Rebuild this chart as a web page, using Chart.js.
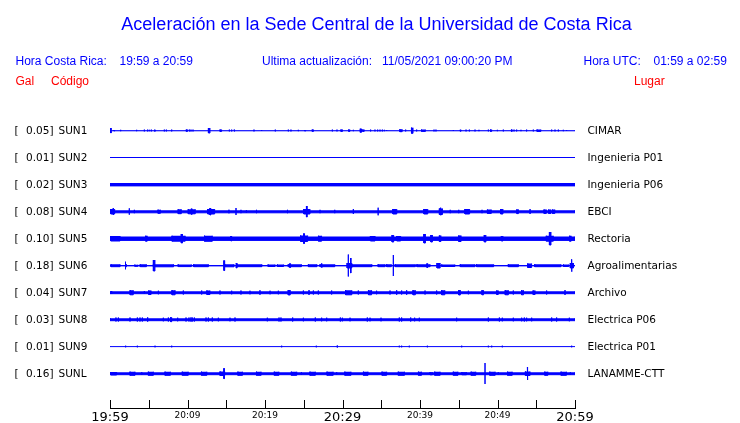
<!DOCTYPE html>
<html>
<head>
<meta charset="utf-8">
<script src="https://cdn.jsdelivr.net/npm/chart.js@4.4.1/dist/chart.umd.min.js"></script>
<style>
	html, body {margin: 0; padding: 0; background: #fff;}
	canvas {display: block;}
</style>
</head>
<body>
<canvas id="chart_acc" width="740" height="423"></canvas>
<script>
'use strict';
const BLUE = '#0000ff', RED = '#ff0000';

const title = 'Aceleración en la Sede Central de la Universidad de Costa Rica';
const stations = ['SUN1', 'SUN2', 'SUN3', 'SUN4', 'SUN5', 'SUN6', 'SUN7', 'SUN8', 'SUN9', 'SUNL'];
const peaks = ['0.05', '0.01', '0.02', '0.08', '0.10', '0.18', '0.04', '0.03', '0.01', '0.16'];
const places = ['CIMAR', 'Ingenieria P01', 'Ingenieria P06', 'EBCI', 'Rectoria', 'Agroalimentarias',
	'Archivo', 'Electrica P06', 'Electrica P01', 'LANAMME-CTT'];
// minutes after 19:59, one tick every 5 minutes
const timeLabels = ['19:59', '', '20:09', '', '20:19', '', '20:29', '', '20:39', '', '20:49', '', '20:59'];

// background noise level of each trace (half height)
const noise = [0.8, 0.5, 1.9, 1.8, 2.4, 0.9, 1.7, 1.7, 0.6, 1.7];

// bursts: [start min, end min, half amplitude]
const sun1 = [[0.1, 0.15, 3], [0.5, 0.6, 1], [1.38, 1.38, 1.2], [3.44, 3.44, 1.2], [4.43, 4.43, 1.4], [4.86, 4.86, 1.4],
	[5.08, 5.08, 1.2], [5.33, 5.33, 1.4], [5.75, 5.85, 1.2], [7.01, 7.01, 1.4], [7.27, 7.27, 1.4], [7.96, 7.96, 1.4],
	[9.85, 10.0, 1.4], [10.2, 10.3, 1.4], [10.45, 10.45, 1.4], [10.71, 10.71, 1.4], [12.7, 12.9, 3], [14.2, 14.4, 1.4],
	[15.4, 15.4, 1.4], [15.7, 15.7, 1.4], [16.0, 16.1, 1.4], [18.58, 18.58, 1.4], [19.57, 19.57, 1], [21.33, 21.33, 1.4],
	[23.01, 23.01, 1.4], [23.35, 23.35, 1.4], [24.3, 24.3, 1.2], [25.1, 25.25, 1], [26.1, 26.25, 1.4], [28.69, 28.69, 1.4],
	[29.29, 29.29, 1.4], [29.8, 30.0, 1.4], [30.8, 30.95, 1.4], [31.4, 31.4, 1.2], [32.3, 32.45, 2.3], [32.6, 32.8, 1.4],
	[33.63, 33.63, 1.4], [34.19, 34.19, 1.4], [34.54, 34.54, 1.4], [34.84, 34.84, 1.4], [35.14, 35.14, 1.4], [35.4, 35.4, 1.2],
	[35.7, 35.7, 1], [37.4, 37.7, 1.7], [38.15, 38.15, 1.4], [38.9, 39.1, 3.3], [39.57, 39.57, 1.4], [40.2, 40.7, 1.4],
	[41.81, 41.81, 1.4], [42.06, 42.06, 1.4], [44.3, 44.3, 1], [45.2, 45.3, 1.2], [45.94, 45.94, 1.4], [46.37, 46.37, 1.4],
	[47.1, 47.1, 1.4], [47.61, 47.61, 1.2], [48.82, 48.82, 1.4], [49.1, 49.25, 1.4], [49.98, 49.98, 1.2], [50.75, 50.75, 1.4],
	[51.8, 51.9, 1.4], [52.13, 52.13, 1.4], [52.47, 52.47, 1.4], [53.03, 53.03, 1.2], [53.76, 53.76, 1.4], [54.62, 54.62, 1.4],
	[55.1, 55.6, 1.4], [56.99, 56.99, 1.4], [57.42, 57.42, 1.4], [57.85, 57.85, 1.4], [58.49, 58.49, 1.2], [58.92, 58.92, 1]];
const sun2 = [];
const sun3 = [];
const sun4 = [[0.1, 0.6, 3], [0.4, 0.45, 4], [2.49, 2.49, 3.7], [3.14, 3.14, 2.2], [6.2, 6.5, 2.3], [8.8, 9.2, 2.7],
	[10.1, 11.0, 2.8], [10.5, 10.6, 3.3], [12.6, 13.5, 3], [12.9, 13.0, 4], [15.35, 15.35, 2.3], [16.26, 16.26, 4],
	[16.9, 16.9, 2.2], [17.6, 17.6, 2], [18.9, 18.9, 2.2], [22.9, 22.9, 2.2], [25.0, 25.8, 3], [25.35, 25.45, 6],
	[27.1, 27.1, 2.2], [29.0, 29.0, 2.2], [31.4, 31.4, 3], [34.6, 34.6, 4.3], [36.5, 37.0, 3], [40.5, 41.0, 3],
	[42.5, 42.9, 3.5], [42.65, 42.7, 4.3], [43.9, 43.9, 2.2], [45.0, 45.0, 2.2], [45.8, 46.4, 3], [48.0, 48.0, 2.2],
	[48.7, 49.2, 2.4], [50.4, 50.7, 3], [52.5, 52.7, 2.6], [54.2, 54.2, 3], [56.0, 56.3, 2.4], [56.6, 56.9, 2.4],
	[57.1, 57.4, 2.4]];
const sun5 = [[0.1, 1.3, 3], [4.6, 4.8, 3.2], [8.0, 9.7, 3.2], [9.2, 9.35, 5], [12.2, 13.2, 3.3], [15.6, 15.7, 3],
	[24.6, 25.5, 3.5], [25.0, 25.1, 5.5], [26.9, 27.3, 3.2], [33.6, 34.2, 3], [36.4, 36.6, 4], [37.0, 37.5, 3],
	[40.5, 40.7, 5], [41.4, 41.6, 4], [42.5, 42.7, 3.5], [45.0, 45.3, 3.5], [48.3, 48.5, 4], [50.5, 50.7, 3],
	[56.3, 57.2, 3.2], [56.7, 56.9, 7], [59.3, 59.5, 3.2]];
const sun6 = [[0.13, 1.3, 1.7], [2.0, 2.0, 4.3], [2.0, 2.1, 2], [3.2, 3.6, 1.3], [3.9, 4.7, 1.7], [5.6, 5.8, 6],
	[5.6, 8.2, 1.8], [8.8, 10.5, 1.6], [10.8, 12.7, 1.7], [14.7, 14.8, 5.5], [14.8, 16.0, 1.8], [16.3, 16.4, 3],
	[16.4, 19.6, 1.7], [20.4, 21.3, 1.5], [21.6, 22.4, 1.5], [23.0, 24.7, 1.7], [23.2, 23.3, 2.5], [25.6, 26.7, 1.7],
	[27.1, 29.0, 1.7], [27.3, 27.35, 2.7], [30.75, 30.75, 11.5], [31.05, 31.1, 8], [30.6, 31.2, 3], [31.2, 33.8, 1.7],
	[34.6, 35.5, 1.7], [35.7, 36.3, 1.7], [36.56, 36.56, 11], [36.8, 39.4, 1.7], [39.6, 41.3, 1.7], [40.9, 41.0, 2.5],
	[42.2, 42.6, 3], [42.8, 44.5, 1.5], [45.2, 47.1, 1.7], [47.3, 49.5, 1.7], [51.4, 52.7, 1.7], [53.9, 54.4, 2.5],
	[54.8, 58.2, 1.7], [58.5, 59.2, 1.5], [59.4, 59.8, 3], [59.55, 59.6, 6.7]];
const sun7 = [[0.22, 0.22, 2], [2.6, 3.0, 2.8], [4.43, 4.43, 2], [5.0, 5.3, 2.5], [6.24, 6.24, 2.3], [8.0, 8.4, 2.8],
	[9.46, 9.46, 2.5], [11.83, 11.83, 2.5], [12.5, 12.9, 2.5], [14.19, 14.19, 2.5], [15.7, 15.7, 2.3], [16.9, 16.9, 2.5],
	[18.06, 18.06, 2.3], [19.35, 19.35, 2.8], [20.65, 20.65, 2.3], [21.72, 21.72, 2.3], [23.0, 23.25, 3], [24.95, 24.95, 2.5],
	[25.68, 25.68, 3], [26.24, 26.24, 2.5], [26.88, 26.88, 2.5], [28.6, 28.6, 2.5], [30.4, 31.2, 2.8], [32.04, 32.04, 2.5],
	[33.35, 33.75, 2.8], [34.4, 34.4, 2.3], [36.13, 36.13, 2.5], [36.99, 36.99, 2.8], [37.63, 37.63, 2.5], [38.28, 38.28, 2.8],
	[39.1, 39.4, 2.8], [40.65, 40.65, 2.5], [42.15, 42.15, 2.5], [42.8, 43.2, 2.8], [45.0, 45.2, 3], [46.24, 46.24, 2.3],
	[48.0, 48.2, 2.8], [49.9, 50.1, 2.5], [51.0, 51.4, 2.8], [52.04, 52.04, 2.5], [53.1, 53.35, 2.8], [54.6, 54.85, 2.5],
	[56.34, 56.34, 2.5], [58.71, 58.71, 3]];
const sun8 = [[0.77, 0.77, 2.5], [1.08, 1.08, 2.5], [2.58, 2.58, 2.5], [3.53, 3.53, 2.5], [3.87, 3.87, 2.5], [4.17, 4.17, 2.5],
	[4.86, 4.86, 2.7], [6.88, 6.88, 2.3], [7.53, 7.53, 2.5], [7.83, 7.96, 2.7], [8.73, 8.73, 2.3], [9.81, 9.81, 2.5],
	[10.19, 10.19, 2.5], [10.45, 10.45, 2.7], [10.62, 10.62, 2.5], [10.88, 10.88, 2.5], [12.39, 12.39, 2.5], [12.69, 12.69, 2.5],
	[13.2, 13.2, 2.5], [13.98, 13.98, 2.3], [15.48, 15.48, 2.3], [16.13, 16.13, 2.5], [20.3, 20.3, 2.3], [21.81, 21.81, 2.5],
	[22.06, 22.06, 2.5], [23.57, 23.57, 2.5], [24.95, 24.95, 2.3], [26.49, 26.49, 2.5], [27.31, 27.31, 2.3], [27.96, 27.96, 2.3],
	[29.72, 29.72, 2.5], [29.98, 29.98, 2.3], [30.97, 30.97, 2.3], [33.2, 33.2, 2.5], [33.55, 33.55, 2.3], [34.97, 34.97, 2.3],
	[37.33, 37.33, 2.5], [37.63, 37.63, 2.5], [38.8, 38.8, 2.5], [39.31, 39.31, 2.3], [39.91, 39.91, 2.3], [44.73, 44.73, 2.3],
	[48.82, 48.82, 2.5], [50.24, 50.24, 2.5], [50.62, 50.62, 2.3], [52.04, 52.04, 2.3], [53.12, 53.12, 2.3], [53.46, 53.46, 2.5],
	[53.76, 53.76, 2.3], [54.41, 54.41, 2.3], [56.99, 56.99, 2.5], [57.63, 57.63, 2.5], [59.27, 59.27, 2.3]];
const sun9 = [[2.02, 2.02, 1.3], [3.53, 3.53, 1.3], [5.81, 5.81, 1.3], [7.96, 7.96, 1.3], [22.15, 22.15, 1.3], [26.62, 26.62, 1.3],
	[29.33, 29.33, 1.6], [37.33, 37.33, 1.3], [37.63, 37.63, 1.3], [38.62, 38.62, 1.3], [40.95, 40.95, 1.3], [45.38, 45.38, 1.3],
	[48.82, 48.82, 1.3], [49.25, 49.25, 1.3], [50.62, 50.62, 1.3], [59.57, 59.57, 1.3]];
const sunl = [[0.1, 0.86, 2], [2.58, 3.23, 2.3], [4.1, 4.1, 1.8], [4.95, 5.6, 2.3], [7.1, 7.8, 2.3], [9.33, 10.1, 2.3],
	[11.8, 12.5, 2.3], [14.2, 14.8, 2.5], [14.7, 14.75, 5.7], [16.5, 17.1, 2.3], [18.9, 19.5, 2.3], [21.2, 21.8, 2.3],
	[23.4, 24.1, 2.3], [24.7, 24.7, 1.8], [25.8, 26.5, 2.3], [28.0, 28.8, 2.3], [29.25, 29.25, 1.8], [30.3, 31.1, 2.3],
	[32.7, 33.3, 2.3], [35.1, 35.7, 2.3], [37.2, 38.0, 2.3], [39.8, 40.2, 2.3], [41.3, 41.6, 1.8], [41.9, 42.6, 2.3],
	[44.3, 44.9, 2.3], [45.4, 46.0, 1.8], [46.6, 47.2, 2.3], [48.39, 48.39, 11], [49.0, 49.7, 2.3], [50.1, 50.1, 1.8],
	[51.3, 51.9, 2.3], [53.6, 54.2, 2.5], [53.85, 53.9, 7], [56.1, 56.5, 2.3], [58.2, 58.9, 2.3], [59.4, 59.4, 1.8]];

const traces = [sun1, sun2, sun3, sun4, sun5, sun6, sun7, sun8, sun9, sunl];
const SPACING = 27;

// one closed box per burst, filled; spikes collapse to a 1px vertical line
function boxDataset(off, t0, t1, amp) {
	let h = Math.max(0, amp - 0.5);
	return {
		data: [{x: t0, y: off - h}, {x: t0, y: off + h}, {x: t1, y: off + h}, {x: t1, y: off - h}],
		borderColor: BLUE,
		backgroundColor: BLUE,
		borderWidth: 1,
		fill: 'shape',
		pointRadius: 0,
		tension: 0,
	};
}

let datasets = [];
traces.forEach((bursts, i) => {
	let off = i * SPACING;
	datasets.push(boxDataset(off, 0, 60, noise[i]));
	bursts.forEach(b => datasets.push(boxDataset(off, b[0], b[1], b[2])));
});

const textPlugin = {
	id: 'seisText',
	afterDraw(chart) {
		const ctx = chart.ctx, xs = chart.scales.x, ys = chart.scales.y, area = chart.chartArea;
		ctx.save();
		// header
		ctx.fillStyle = BLUE;
		ctx.textBaseline = 'alphabetic';
		ctx.textAlign = 'center';
		ctx.font = '18px "Liberation Sans", Arial, sans-serif';
		ctx.fillText(title, 376.5, 29.5);
		ctx.textAlign = 'left';
		ctx.font = '12px "Liberation Sans", Arial, sans-serif';
		ctx.fillText('Hora Costa Rica:', 15.5, 65);
		ctx.fillText('19:59 a 20:59', 119.5, 65);
		ctx.fillText('Ultima actualización:', 262, 65);
		ctx.fillText('11/05/2021 09:00:20 PM', 382, 65);
		ctx.fillText('Hora UTC:', 583.5, 65);
		ctx.fillText('01:59 a 02:59', 653.5, 65);
		ctx.fillStyle = RED;
		ctx.fillText('Gal', 15.5, 85);
		ctx.fillText('Código', 51, 85);
		ctx.fillText('Lugar', 634, 85);

		// station labels
		ctx.fillStyle = '#000';
		ctx.textBaseline = 'middle';
		ctx.font = '10.5px "DejaVu Sans", sans-serif';
		stations.forEach((s, i) => {
			let py = ys.getPixelForValue(i * SPACING) + 1;
			ctx.textAlign = 'left';
			ctx.fillText('[', 14.5, py);
			ctx.fillText(s, 58.5, py);
			ctx.fillText(places[i], 587.5, py);
			ctx.textAlign = 'right';
			ctx.fillText(peaks[i] + ']', 53.5, py);
		});

		// time axis with upward ticks
		ctx.strokeStyle = '#000';
		ctx.lineWidth = 1;
		ctx.beginPath();
		ctx.moveTo(area.left, area.bottom - 0.5);
		ctx.lineTo(area.right + 1, area.bottom - 0.5);
		xs.ticks.forEach(t => {
			let px = Math.round(xs.getPixelForValue(t.value)) + 0.5;
			ctx.moveTo(px, area.bottom - 9);
			ctx.lineTo(px, area.bottom);
		});
		ctx.stroke();
		ctx.restore();
	}
};

let ctx = document.getElementById('chart_acc').getContext('2d');
window.ChartAcc = new Chart(ctx, {
	type: 'line',
	data: {datasets: datasets},
	options: {
		responsive: false,
		animation: false,
		events: [],
		layout: {padding: {left: 110, right: 165, top: 100, bottom: 0}},
		plugins: {legend: {display: false}, tooltip: {enabled: false}, title: {display: false}},
		scales: {
			x: {
				type: 'linear',
				min: 0,
				max: 60,
				afterFit: s => { s.height = 14; },
				grid: {display: false, drawTicks: false},
				border: {display: false},
				ticks: {
					stepSize: 5,
					autoSkip: false,
					maxRotation: 0,
					padding: 1,
					color: '#000',
					callback: (v, i) => timeLabels[i],
					font: c => (c.tick && c.tick.value % 30 === 0)
						? {family: '"DejaVu Sans", sans-serif', size: 13}
						: {family: '"DejaVu Sans", sans-serif', size: 9},
				},
			},
			y: {
				type: 'linear',
				display: false,
				reverse: true,
				min: -30.5,
				max: 278.5,
			},
		},
	},
	plugins: [textPlugin],
});
</script>
</body>
</html>
